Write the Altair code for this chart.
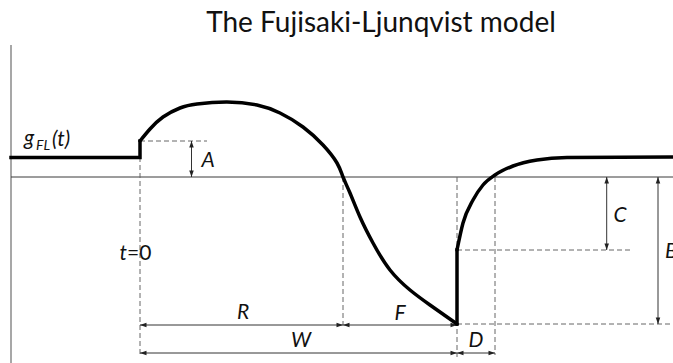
import altair as alt
import pandas as pd

# Time in ms (t = 0 at accent onset); g in arbitrary F0 units, 0 = reference line.
R, F, D = 203, 114, 38
W = R + F
A, B, C = 0.36, 1.47, 0.73
G_PRE, G_POST = 0.195, 0.20
T_DOMAIN = [-140, 533]
G_DOMAIN = [-1.86, 1.77]
T_AXIS = -129  # position of the vertical axis line

# Sampled contour: rise/fall part (0 .. W) and recovery part (W .. end)
arc_t = [0, 10, 23, 40, 57, 87, 117, 140, 163, 183, 197, 203, 210, 220, 233, 250, 270, 290, 317]
arc_g = [0.36, 0.48, 0.60, 0.69, 0.73, 0.75, 0.72, 0.64, 0.50, 0.32, 0.14, 0.0,
         -0.16, -0.40, -0.66, -0.93, -1.13, -1.28, -1.47]
rec_t = [317, 323, 333, 343, 355, 373, 397, 427, 533]
rec_g = [-0.73, -0.46, -0.23, -0.08, 0.02, 0.11, 0.17, 0.195, 0.20]

# Straight pieces: flat level with onset step, and the jump at t = W
pre_t = [T_AXIS, 0, 0]
pre_g = [G_PRE, G_PRE, A]
jump_t = [W, W]
jump_g = [-B, -C]

# Dashed guides: (t1, t2, g1, g2)
guide_t1 = [0, 0, R, W, W + D, W, W]
guide_t2 = [67, 0, R, W, W + D, 493, 533]
guide_g1 = [A, A, 0, 0, 0, -C, -B]
guide_g2 = [A, -1.80, -B - 0.01, -1.80, -1.78, -C, -B]

# Dimension arrows: name, orientation, fixed coordinate, start, end
arrow_name = ["A", "C", "B", "R", "F", "W", "D"]
arrow_dir = ["v", "v", "v", "h", "h", "h", "h"]
arrow_at = [51.5, 466.7, 518, -1.48, -1.48, -1.76, -1.76]
arrow_from = [0, 0, 0, 0, R, 0, W]
arrow_to = [A, -C, -B, R, W, W, W + D]

# Labels
lab_center = ["A", "R", "F", "W", "D", "C"]
lab_center_t = [68, 103, 260, 161, 336, 480]
lab_center_g = [0.10, -1.415, -1.43, -1.70, -1.70, -0.45]

xs = alt.Scale(domain=T_DOMAIN, nice=False, zero=False)
ys = alt.Scale(domain=G_DOMAIN, nice=False, zero=False)

FONT = "Lato"
INK = "#111111"


def X(field):
    return alt.X(field, type="quantitative", scale=xs, axis=None)


def Y(field):
    return alt.Y(field, type="quantitative", scale=ys, axis=None)


# contour tables
rise = pd.DataFrame({"i": range(len(arc_t)), "t": arc_t, "g": arc_g})
recovery = pd.DataFrame({"i": range(len(rec_t)), "t": rec_t, "g": rec_g})
straight = pd.concat([
    pd.DataFrame({"seg": "pre", "i": range(len(pre_t)), "t": pre_t, "g": pre_g}),
    pd.DataFrame({"seg": "jump", "i": range(len(jump_t)), "t": jump_t, "g": jump_g}),
])

guides = pd.DataFrame({"t1": guide_t1, "t2": guide_t2, "g1": guide_g1, "g2": guide_g2})

shafts, heads = [], []
for name, d, at, a, b in zip(arrow_name, arrow_dir, arrow_at, arrow_from, arrow_to):
    if d == "v":
        shafts.append({"t1": at, "t2": at, "g1": a, "g2": b})
        heads.append({"t": at, "g": max(a, b), "angle": 0})
        heads.append({"t": at, "g": min(a, b), "angle": 180})
    else:
        shafts.append({"t1": a, "t2": b, "g1": at, "g2": at})
        heads.append({"t": a, "g": at, "angle": 270})
        heads.append({"t": b, "g": at, "angle": 90})
shafts = pd.DataFrame(shafts)
heads = pd.DataFrame(heads)

axis_line = pd.DataFrame({"t1": [T_AXIS, T_AXIS], "t2": [T_AXIS, T_DOMAIN[1]],
                          "g1": [1.32, 0], "g2": [G_DOMAIN[0], 0],
                          "kind": ["axis", "ref"]})

ARROW_PATH = "M0,0L-0.7,2L0.7,2Z"

axis_layer = alt.Chart(axis_line).mark_rule(strokeWidth=1.5, color="#8a8a8a").encode(
    x=X("t1"), x2="t2", y=Y("g1"), y2="g2"
).transform_filter(alt.datum.kind == "axis")
ref_layer = alt.Chart(axis_line).mark_rule(strokeWidth=1, color="#3a3a3a").encode(
    x=X("t1"), x2="t2", y=Y("g1"), y2="g2"
).transform_filter(alt.datum.kind == "ref")

guide_layer = alt.Chart(guides).mark_rule(strokeWidth=1, color="#666666", strokeDash=[5, 3]).encode(
    x=X("t1"), x2="t2", y=Y("g1"), y2="g2"
)

shaft_layer = alt.Chart(shafts).mark_rule(strokeWidth=1, color="#333333").encode(
    x=X("t1"), x2="t2", y=Y("g1"), y2="g2"
)
head_layer = alt.Chart(heads).mark_point(
    shape=ARROW_PATH, filled=True, size=42, color="#222222", opacity=1, strokeWidth=0
).encode(x=X("t"), y=Y("g"), angle=alt.Angle("angle:Q", scale=None))

rise_layer = alt.Chart(rise).mark_line(
    interpolate="natural", strokeWidth=3.5, color="#000000", strokeCap="round"
).encode(x=X("t"), y=Y("g"), order="i:Q")
recovery_layer = alt.Chart(recovery).mark_line(
    interpolate="monotone", strokeWidth=3.5, color="#000000", strokeCap="round"
).encode(x=X("t"), y=Y("g"), order="i:Q")
straight_layer = alt.Chart(straight).mark_line(
    strokeWidth=3.5, color="#000000", strokeCap="square", strokeJoin="miter"
).encode(x=X("t"), y=Y("g"), detail="seg:N", order="i:Q")


def text_layer(texts, ts, gs, align, size=21, italic=True, baseline="alphabetic"):
    df = pd.DataFrame({"text": texts, "t": ts, "g": gs})
    kw = dict(align=align, baseline=baseline, font=FONT, fontSize=size, color=INK)
    if italic:
        kw["fontStyle"] = "italic"
    return alt.Chart(df).mark_text(**kw).encode(x=X("t"), y=Y("g"), text="text:N")


labels_c = text_layer(lab_center, lab_center_t, lab_center_g, "center")
labels_l = text_layer(["B", "g", "(t)"], [525, -116, -88], [-0.81, 0.32, 0.31], "left")
label_sub = text_layer(["FL"], [-104], [0.27], "left", size=14)
label_t = text_layer(["t"], [-13], [-0.83], "right")
label_eq = text_layer(["=0"], [-13], [-0.83], "left", italic=False)
title = text_layer(["The Fujisaki-Ljunqvist model"], [381], [1.45], "center", size=28, italic=False)
title = text_layer(["The Fujisaki-Ljunqvist model"], [241], [1.45], "center", size=28, italic=False)

chart = alt.layer(
    axis_layer, ref_layer, guide_layer, shaft_layer, head_layer,
    straight_layer, rise_layer, recovery_layer,
    labels_c, labels_l, label_sub, label_t, label_eq, title,
).properties(
    width=673, height=363, padding=0, autosize="none", background="white"
).configure_view(stroke=None)

chart.save("out.html", embed_options={"renderer": "svg", "actions": False})
